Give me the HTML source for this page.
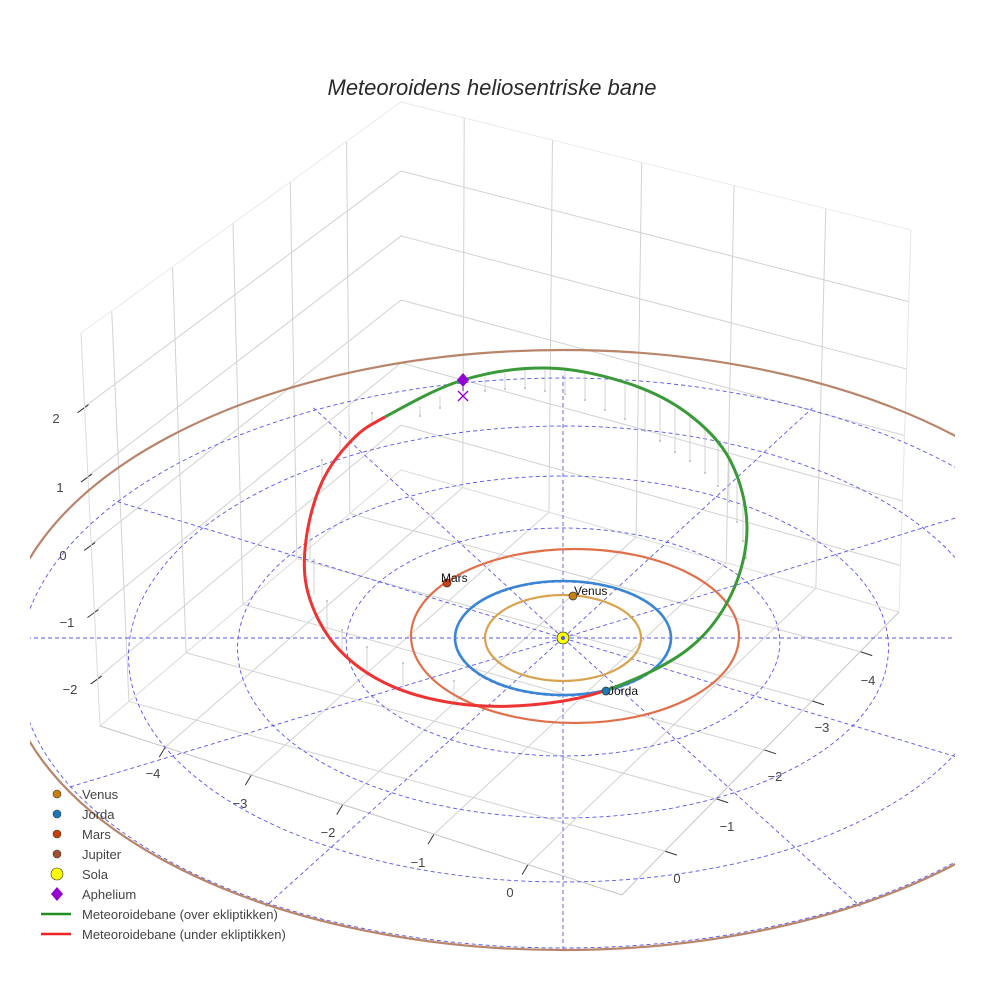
<!DOCTYPE html>
<html><head><meta charset="utf-8"><style>
html,body{margin:0;padding:0;background:#fff;width:984px;height:984px;overflow:hidden}
svg{display:block}
text{font-family:"Liberation Sans",sans-serif}
</style></head><body>
<svg id="s" width="984" height="984" viewBox="0 0 984 984" xmlns="http://www.w3.org/2000/svg">
<defs><clipPath id="cp"><rect x="30" y="0" width="925" height="956"/></clipPath></defs>
<rect width="984" height="984" fill="#fff"/>
<g id="grid"></g>
<g id="plane" clip-path="url(#cp)"></g>
<g id="orb"></g>
<text x="492" y="95" text-anchor="middle" font-size="22" font-style="italic" fill="#2a2a2a">Meteoroidens heliosentriske bane</text>
<g font-size="13" fill="#444">
<text x="56" y="423" text-anchor="middle">2</text>
<text x="60" y="492" text-anchor="middle">1</text>
<text x="63" y="560" text-anchor="middle">0</text>
<text x="67" y="627" text-anchor="middle">−1</text>
<text x="70" y="694" text-anchor="middle">−2</text>
<text x="153" y="778" text-anchor="middle">−4</text>
<text x="240" y="808" text-anchor="middle">−3</text>
<text x="328" y="837" text-anchor="middle">−2</text>
<text x="418" y="867" text-anchor="middle">−1</text>
<text x="510" y="897" text-anchor="middle">0</text>
<text x="677" y="883" text-anchor="middle">0</text>
<text x="727" y="831" text-anchor="middle">−1</text>
<text x="775" y="781" text-anchor="middle">−2</text>
<text x="822" y="732" text-anchor="middle">−3</text>
<text x="868" y="685" text-anchor="middle">−4</text>
</g>
<g font-size="13" fill="#444">
<circle cx="57" cy="794" r="4" fill="#c8800e" stroke="#333" stroke-width="0.6"/><text x="82" y="799">Venus</text>
<circle cx="57" cy="814" r="4" fill="#1f77b4" stroke="#333" stroke-width="0.6"/><text x="82" y="819">Jorda</text>
<circle cx="57" cy="834" r="4" fill="#c8400e" stroke="#333" stroke-width="0.6"/><text x="82" y="839">Mars</text>
<circle cx="57" cy="854" r="4" fill="#a0522d" stroke="#333" stroke-width="0.6"/><text x="82" y="859">Jupiter</text>
<circle cx="57" cy="874" r="6" fill="#ffff00" stroke="#333" stroke-width="0.6"/><text x="82" y="879">Sola</text>
<path d="M57 887 L63 894 L57 901 L51 894Z" fill="#9400d3"/><text x="82" y="899">Aphelium</text>
<line x1="41" y1="914" x2="71" y2="914" stroke="#228b22" stroke-width="2.5"/><text x="82" y="919">Meteoroidebane (over ekliptikken)</text>
<line x1="41" y1="934" x2="71" y2="934" stroke="#ee2222" stroke-width="2.5"/><text x="82" y="939">Meteoroidebane (under ekliptikken)</text>
</g>
</svg>
<script>
var NS="http://www.w3.org/2000/svg";
function el(p,t,a){var e=document.createElementNS(NS,t);for(var k in a)e.setAttribute(k,a[k]);p.appendChild(e);return e;}
function L(a,b,t){return [a[0]+(b[0]-a[0])*t,a[1]+(b[1]-a[1])*t];}
function ln(g,p,q,c,w){return el(g,"line",{x1:p[0],y1:p[1],x2:q[0],y2:q[1],stroke:c,"stroke-width":w||1});}
var G=document.getElementById("grid");
var A=[100,726],D=[622,895],C=[899,612],B=[401,470],A2=[81,333],B2=[401,102],C2=[911,230];
var gc="#d2d2d2";
var uAD=[0.125,0.29,0.465,0.64,0.82],uBC=[0.124,0.297,0.472,0.653,0.833];
var vDC=[0.155,0.34,0.513,0.686,0.86],vAB=[0.096,0.286,0.475,0.654,0.83];
for(var i=0;i<5;i++){
 ln(G,L(A,D,uAD[i]),L(B,C,uBC[i]),gc);
 ln(G,L(D,C,vDC[i]),L(A,B,vAB[i]),gc);
 ln(G,L(B,C,uBC[i]),L(B2,C2,uBC[i]),gc);
 ln(G,L(A,B,vAB[i]),L(A2,B2,vAB[i]),gc);
 var p=L(A,D,uAD[i]);ln(G,p,[p[0]-6,p[1]+10],"#333");
 var q=L(D,C,vDC[i]);ln(G,q,[q[0]+12,q[1]+4],"#333");
}
var fz=[0.1875,0.364,0.538,0.709,0.878];
for(i=0;i<5;i++){
 var l=L(A2,A,fz[i]),k=L(B2,B,fz[i]),r=L(C2,C,fz[i]);
 ln(G,l,k,gc);ln(G,k,r,gc);
 ln(G,[l[0]-7,l[1]+6],[l[0]+4,l[1]-2],"#333");
}
ln(G,A2,B2,"#eaeaea");ln(G,B2,C2,"#eaeaea");ln(G,A2,A,"#dcdcdc");ln(G,C2,C,"#e6e6e6");
ln(G,A,B,"#dcdcdc");ln(G,B,C,"#dcdcdc");ln(G,A,D,"#c4c4c4");ln(G,D,C,"#c4c4c4");
var P=document.getElementById("plane");
function pr(r,t){var s=Math.sin(t),c=Math.cos(t);return [563+108.3*r*c*(1-0.02*r*s),638-57*r*s+r*r*s*s];}
var dc="#5555ee";
for(var kk=1;kk<=5;kk++){var d="";for(var j=0;j<=180;j++){var pt=pr(kk,j/180*2*Math.PI);d+=(j?"L":"M")+pt[0].toFixed(1)+" "+pt[1].toFixed(1);}
 el(P,"path",{d:d,fill:"none",stroke:dc,"stroke-width":0.9,"stroke-dasharray":"4 3"});}
for(j=0;j<12;j++){var t=j*Math.PI/6,e=pr(5.05,t);var z=ln(P,[563,638],e,dc,0.9);z.setAttribute("stroke-dasharray","4 3");}
el(P,"ellipse",{cx:563,cy:650,rx:560,ry:300,fill:"none",stroke:"#b8846a","stroke-width":2.2});
var O=document.getElementById("orb");
var drops=[[420,406,10],[440,396,12],[485,377,14],[505,373,16],[525,370,18],[545,369,22],[565,369,25],[585,372,28],[605,378,32],[625,383,36],[645,391,40],[660,399,42],[675,408,44],[690,416,45],[705,428,45],[718,442,44],[729,460,42],[737,482,40],[743,505,36],[746,530,28]];
drops.forEach(function(d){ln(O,[d[0],d[1]],[d[0],d[1]+d[2]],"#c8c8c8",0.8);el(O,"circle",{cx:d[0],cy:d[1]+d[2],r:0.9,fill:"#aaa"});});
var up=[[310,560,45],[314,595,35],[327,633,32],[342,652,22],[367,677,30],[403,693,30],[454,703,22],[322,490,30],[340,455,20],[372,425,12]];
up.forEach(function(d){ln(O,[d[0],d[1]],[d[0],d[1]-d[2]],"#c8c8c8",0.8);el(O,"circle",{cx:d[0],cy:d[1]-d[2],r:0.9,fill:"#aaa"});});
el(O,"ellipse",{cx:563,cy:638,rx:78,ry:43,fill:"none",stroke:"#d9a24e","stroke-width":2.2});
el(O,"ellipse",{cx:575,cy:636,rx:164,ry:87,fill:"none",stroke:"#e0704a","stroke-width":2.2});
el(O,"ellipse",{cx:563,cy:638,rx:108,ry:57,fill:"none",stroke:"#3a86d4","stroke-width":2.6});
// closed loop
var loop=[[385,417],[463,380],[547,368],[627,383],[687,413],[730,460],[747,527],[731,595],[687,650],[607,690],[530,705],[453,703],[385,683],[335,645],[308,593],[306,540],[322,482],[352,440]];
var n=loop.length;
function seg(a,b){var d="M"+loop[a][0]+" "+loop[a][1];for(var i=a;i!=b;i=(i+1)%n){var p0=loop[(i-1+n)%n],p1=loop[i],p2=loop[(i+1)%n],p3=loop[(i+2)%n];
 d+="C"+(p1[0]+(p2[0]-p0[0])/6).toFixed(1)+" "+(p1[1]+(p2[1]-p0[1])/6).toFixed(1)+" "+(p2[0]-(p3[0]-p1[0])/6).toFixed(1)+" "+(p2[1]-(p3[1]-p1[1])/6).toFixed(1)+" "+p2[0]+" "+p2[1];}return d;}
el(O,"path",{d:seg(0,9),fill:"none",stroke:"#3a9a3a","stroke-width":3});
el(O,"path",{d:seg(9,0),fill:"none",stroke:"#ee3333","stroke-width":3});
el(O,"circle",{cx:573,cy:596,r:4,fill:"#c8800e",stroke:"#333","stroke-width":0.7});
el(O,"circle",{cx:447,cy:583,r:4,fill:"#c8400e",stroke:"#333","stroke-width":0.7});
el(O,"circle",{cx:606,cy:691,r:4,fill:"#1f77b4",stroke:"#333","stroke-width":0.7});
el(O,"circle",{cx:563,cy:638,r:6,fill:"#ffff00",stroke:"#333","stroke-width":0.8});
el(O,"circle",{cx:563,cy:638,r:2,fill:"#5555ee"});
el(O,"path",{d:"M463 373 L469 380 L463 387 L457 380Z",fill:"#9400d3"});
ln(O,[463,387],[463,391],"#9400d3",1);
ln(O,[458,391],[468,401],"#9400d3",1.3);ln(O,[468,391],[458,401],"#9400d3",1.3);
var tx=[["Venus",574,595],["Mars",441,582],["Jorda",608,695]];
tx.forEach(function(t){var e=el(O,"text",{x:t[1],y:t[2],"font-size":12,fill:"#111"});e.textContent=t[0];});
</script>
</body></html>
